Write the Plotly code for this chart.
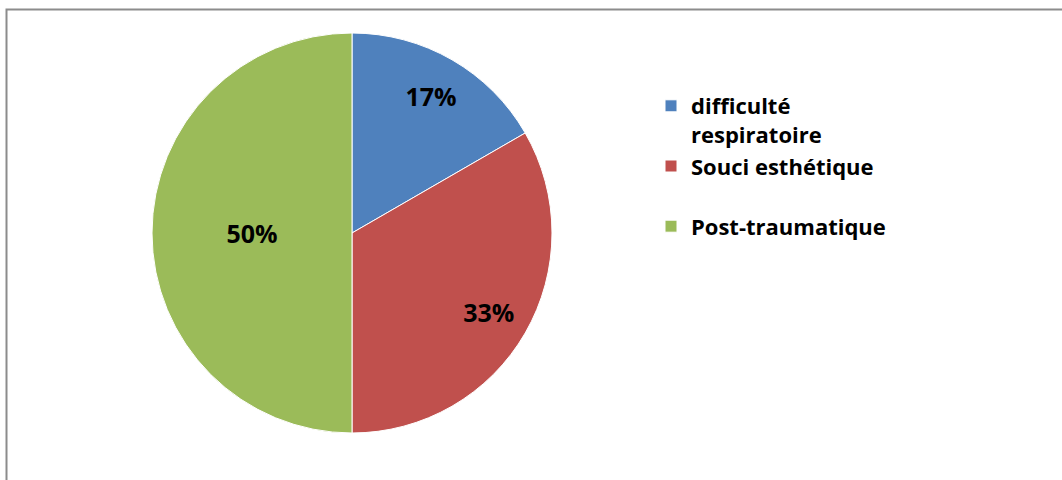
import plotly.graph_objects as go

categories = ["difficulté<br>respiratoire", "Souci esthétique<br> ", "Post-traumatique"]
values = [1, 2, 3]
colors = ["#4F81BD", "#C0504D", "#9BBB59"]

W, H = 1062, 480
cx, cy, R = 352, 233, 200
dom = dict(x=[(cx - R) / W, (cx + R) / W], y=[1 - (cy + R) / H, 1 - (cy - R) / H])
label_font = dict(family="Open Sans", size=25, color="black", weight="bold")
pct = "%{percent:.0%}"

fig = go.Figure()
fig.add_trace(go.Pie(
    labels=categories,
    values=values,
    sort=False,
    direction="clockwise",
    rotation=0,
    marker=dict(colors=colors, line=dict(color="white", width=1)),
    texttemplate=["", "", pct],
    textposition="inside",
    insidetextorientation="horizontal",
    textfont=label_font,
    domain=dom,
    hoverinfo="label+percent",
))
# transparent ring carrying the outer percentage labels
fig.add_trace(go.Pie(
    labels=categories,
    values=values,
    sort=False,
    direction="clockwise",
    rotation=0,
    hole=0.58,
    marker=dict(colors=["rgba(0,0,0,0)"] * 3, line=dict(width=0)),
    texttemplate=[pct, pct, ""],
    textposition="inside",
    insidetextorientation="horizontal",
    textfont=label_font,
    domain=dom,
    showlegend=False,
    hoverinfo="skip",
))

fig.update_layout(
    width=W, height=H,
    margin=dict(l=0, r=0, t=0, b=0),
    paper_bgcolor="white",
    showlegend=True,
    legend=dict(
        x=651 / W, y=1 - 85 / H, xanchor="left", yanchor="top",
        valign="top",
        font=dict(family="Open Sans", size=22, color="black", weight="bold"),
        bgcolor="rgba(0,0,0,0)",
    ),
    shapes=[dict(type="rect", xref="paper", yref="paper",
                 x0=6.5 / W, x1=1.05, y0=-0.05, y1=1 - 9.5 / H,
                 line=dict(color="#8C8C8C", width=2))],
)

fig.write_html("out.html", config={"displayModeBar": False},
               post_script="document.body.style.margin='0px';")
